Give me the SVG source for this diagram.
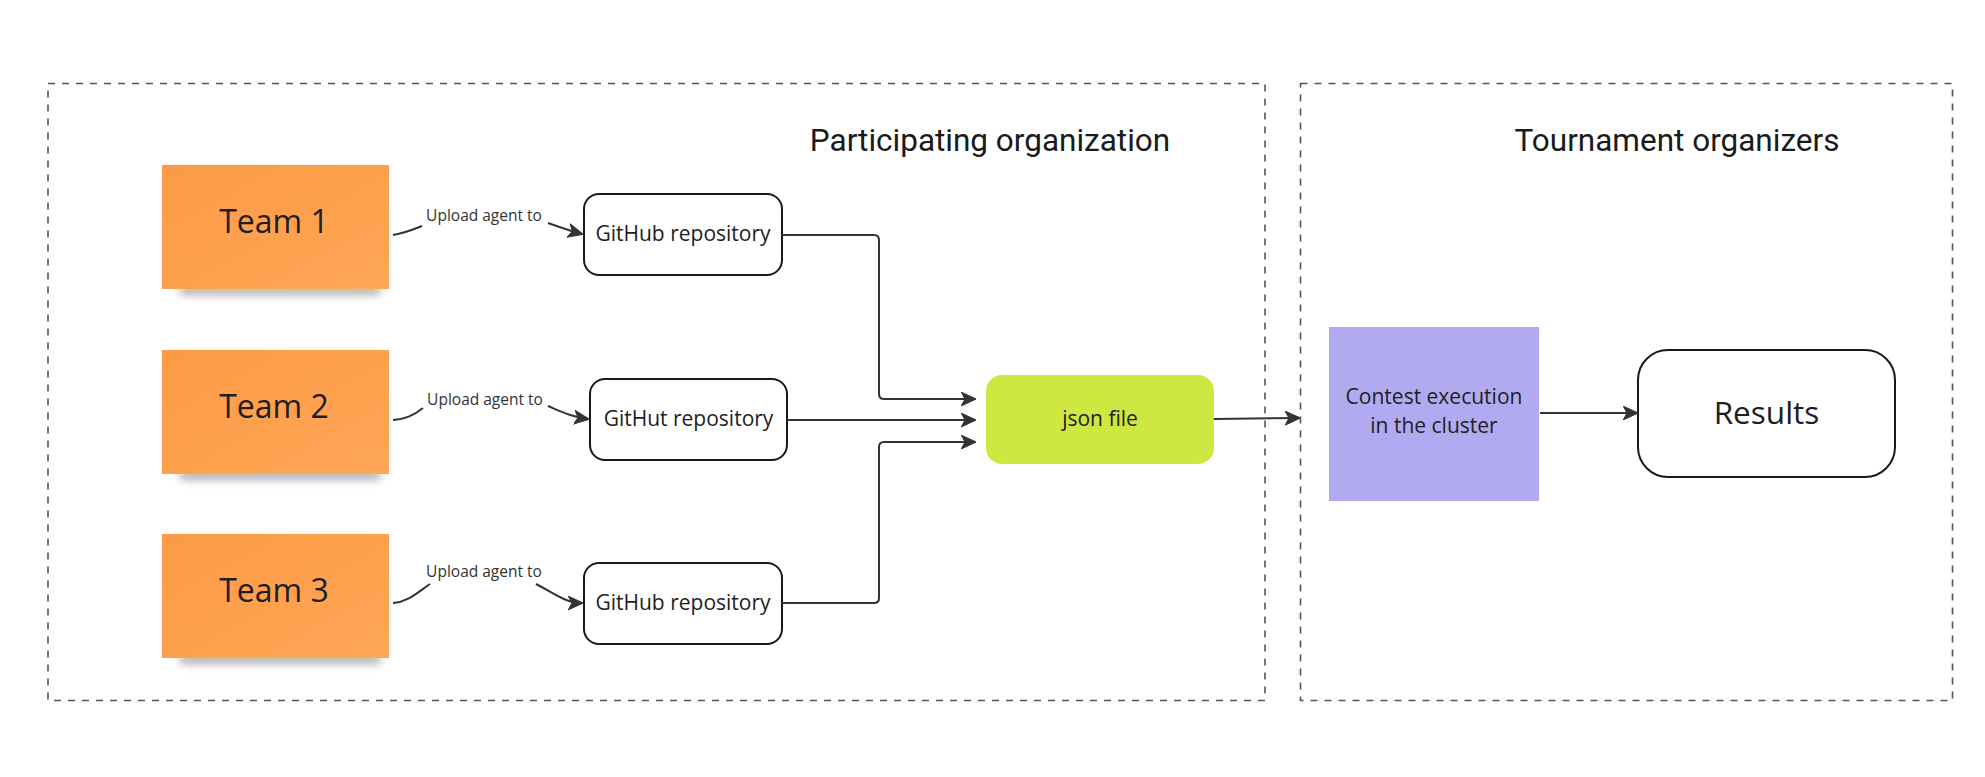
<svg xmlns="http://www.w3.org/2000/svg" width="1985" height="777" viewBox="0 0 1985 777">
  <defs>
    <marker id="arr" viewBox="0 0 12 12" refX="11" refY="6" markerWidth="15" markerHeight="15" markerUnits="userSpaceOnUse" orient="auto">
      <path d="M0,0.5 L12,6 L0,11.5 L3,6 z" fill="#333333" stroke="#333333" stroke-width="0.8" stroke-linejoin="round"/>
    </marker>
    <linearGradient id="sticky" x1="0" y1="0" x2="1" y2="1">
      <stop offset="0" stop-color="#fc9a46"/>
      <stop offset="1" stop-color="#ffa756"/>
    </linearGradient>
    <filter id="blur" x="-20%" y="-100%" width="140%" height="300%">
      <feGaussianBlur stdDeviation="4"/>
    </filter>
    <style>
      .frame{fill:none;stroke:#555555;stroke-width:1.6;stroke-dasharray:7 7}
      .title{font-family:Roboto,"Liberation Sans",sans-serif;font-size:31.5px;fill:#1a1a1a;text-anchor:middle}
      .stk{fill:url(#sticky)}
      .shadow{fill:#6d6d6d;opacity:0.55;filter:url(#blur)}
      .team{font-family:"Open Sans","Noto Sans",sans-serif;font-size:32px;fill:#1e1e1e;text-anchor:middle}
      .box{fill:#ffffff;stroke:#1a1a1a;stroke-width:2}
      .lbl{font-family:"Open Sans","Noto Sans",sans-serif;font-size:21px;fill:#1e1e1e;text-anchor:middle}
      .small{font-family:"Open Sans","Noto Sans",sans-serif;font-size:15.5px;fill:#333333;text-anchor:middle}
      .line{fill:none;stroke:#333333;stroke-width:2}
    </style>
  </defs>
  <rect width="1985" height="777" fill="#ffffff"/>

  <g id="frame-participating">
    <rect class="frame" x="48" y="83.5" width="1217" height="617"/>
    <text class="title" x="990" y="151">Participating organization</text>
  </g>
  <g id="frame-organizers">
    <rect class="frame" x="1300.5" y="83.5" width="652" height="617"/>
    <text class="title" x="1677" y="151">Tournament organizers</text>
  </g>

  <g id="team1">
    <rect class="shadow" x="180" y="285" width="200" height="10"/>
    <rect class="stk" x="162" y="165" width="227" height="124"/>
    <text class="team" x="274" y="233">Team 1</text>
  </g>
  <g id="team2">
    <rect class="shadow" x="180" y="470" width="200" height="10"/>
    <rect class="stk" x="162" y="350" width="227" height="124"/>
    <text class="team" x="274" y="418">Team 2</text>
  </g>
  <g id="team3">
    <rect class="shadow" x="180" y="654" width="200" height="10"/>
    <rect class="stk" x="162" y="534" width="227" height="124"/>
    <text class="team" x="274" y="602">Team 3</text>
  </g>

  <g id="repo1">
    <rect class="box" x="584" y="194" width="198" height="81" rx="15"/>
    <text class="lbl" x="683" y="241">GitHub repository</text>
  </g>
  <g id="repo2">
    <rect class="box" x="590" y="379" width="197" height="81" rx="15"/>
    <text class="lbl" x="688.5" y="426">GitHut repository</text>
  </g>
  <g id="repo3">
    <rect class="box" x="584" y="563" width="198" height="81" rx="15"/>
    <text class="lbl" x="683" y="610">GitHub repository</text>
  </g>

  <g id="json">
    <rect x="986" y="375" width="228" height="89" rx="16" fill="#cee741"/>
    <text class="lbl" x="1100" y="426">json file</text>
  </g>

  <g id="contest">
    <rect x="1329" y="327" width="210" height="174" fill="#b2aaf0"/>
    <text class="lbl" x="1434" y="404">Contest execution</text>
    <text class="lbl" x="1434" y="433">in the cluster</text>
  </g>

  <g id="results">
    <rect class="box" x="1638" y="350" width="257" height="127" rx="30"/>
    <text class="team" x="1766.5" y="424" style="font-size:31.5px">Results</text>
  </g>

  <g id="connectors">
    <path class="line" d="M393,235 C405,233 412,230 422,226"/>
    <path class="line" d="M548,223 C560,227 570,231 582,234" marker-end="url(#arr)"/>
    <text class="small" x="484" y="221">Upload agent to</text>

    <path class="line" d="M393,420 C405,419 413,416 423,408"/>
    <path class="line" d="M548,406 C562,412 572,417 588,419" marker-end="url(#arr)"/>
    <text class="small" x="485" y="405">Upload agent to</text>

    <path class="line" d="M393,603 C408,602 418,592 430,584"/>
    <path class="line" d="M536,584 C552,592 565,603 582,603" marker-end="url(#arr)"/>
    <text class="small" x="484" y="577">Upload agent to</text>

    <path class="line" d="M782,235 H874 Q879,235 879,240 V394 Q879,399 884,399 H975" marker-end="url(#arr)"/>
    <path class="line" d="M787,420 H975" marker-end="url(#arr)"/>
    <path class="line" d="M782,603 H874 Q879,603 879,598 V447 Q879,442 884,442 H975" marker-end="url(#arr)"/>

    <path class="line" d="M1214,419 L1299,418" marker-end="url(#arr)"/>
    <path class="line" d="M1540,413 H1637" marker-end="url(#arr)"/>
  </g>
</svg>
